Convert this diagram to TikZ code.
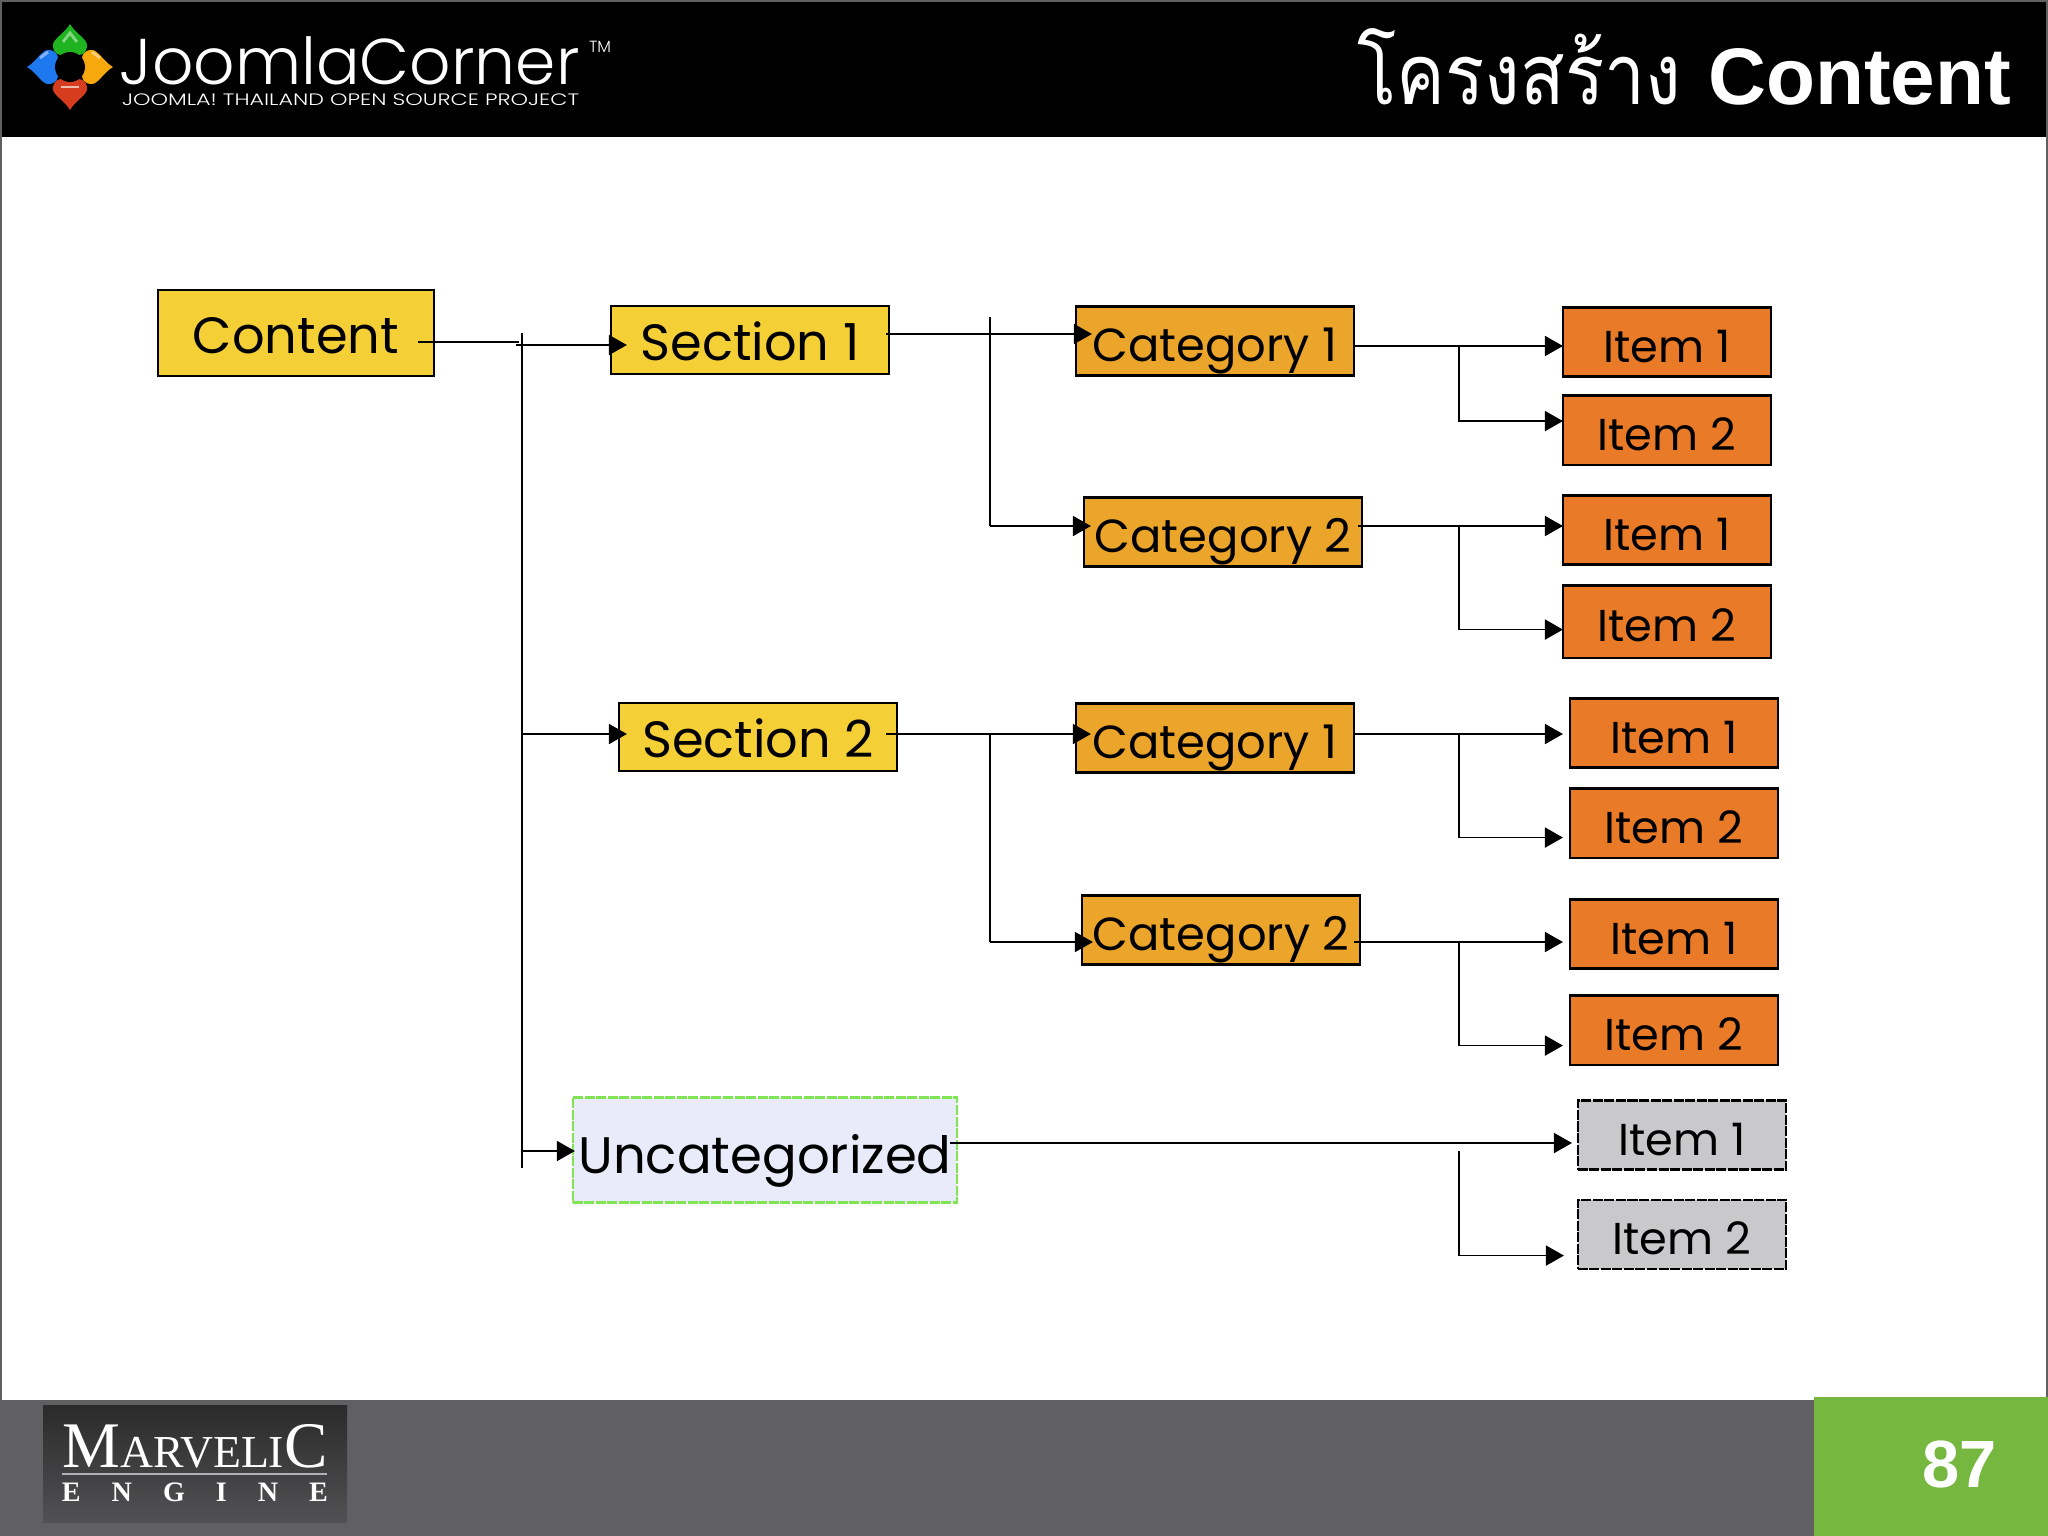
\documentclass[tikz,border=0pt]{standalone}
\usepackage{graphicx}
\usepackage{fontspec}
\setmainfont{Liberation Sans}
\newfontfamily\thaifont[Script=Thai]{Loma}
\newfontfamily\gothicfont{Poppins}
\newfontfamily\gothiclight{Poppins Light}
\newfontfamily\marvelfont{Liberation Serif}
\usetikzlibrary{positioning, arrows.meta, calc}
\definecolor{sectionfill}{HTML}{F4CF35}
\definecolor{categoryfill}{HTML}{EBA52A}
\definecolor{itemfill}{HTML}{E97A28}
\definecolor{greyfill}{HTML}{C9C8CA}
\definecolor{loosefill}{HTML}{E9EAFA}
\definecolor{looseline}{HTML}{7FE552}
\definecolor{footfill}{HTML}{605F61}
\definecolor{pagefill}{HTML}{76B83F}
\definecolor{gemgreen}{HTML}{1FB41F}
\definecolor{gemblue}{HTML}{1E78F0}
\definecolor{gemorange}{HTML}{F7A80C}
\definecolor{gemred}{HTML}{D63C1E}
\newcommand{\gempath}{(0,-43) .. controls (5,-34) and (17,-28) .. (17,-22) .. controls (17,-14) and (12,-12) .. (8,-12) -- (-8,-12) .. controls (-12,-12) and (-17,-14) .. (-17,-22) .. controls (-17,-28) and (-5,-34) .. (0,-43) -- cycle}

\begin{document}
\begin{tikzpicture}[x=0.01cm, y=-0.01cm, node distance={2mm},
    main/.style = {draw, line width=0.6pt, inner sep=0, outer sep=0, text=black, text height=4mm, text depth=0pt, font=\gothicfont\fontsize{12.7}{12.7}\selectfont},
    sectionbox/.style = {main, fill=sectionfill, minimum width=2.78cm, minimum height=0.68cm, font=\gothicfont\fontsize{14.5}{14.5}\selectfont},
    categorybox/.style = {main, fill=categoryfill, minimum width=2.78cm, minimum height=0.69cm, font=\gothicfont\fontsize{13.2}{13.2}\selectfont},
    itembox/.style = {main, fill=itemfill, minimum width=2.08cm, minimum height=0.69cm},
    greybox/.style = {main, fill=greyfill, minimum width=2.08cm, minimum height=0.69cm, dash pattern=on 1.0mm off 0.15mm},
    link/.style = {black, line width=0.5pt},
    linkarrow/.style = {link, -{Triangle[length=1.8mm, width=2mm]}},
    whitetext/.style = {inner sep=0, outer sep=0, text=white}]
    \useasboundingbox (0,0) rectangle (2048,1536);
    \fill[white] (0,0) rectangle (2048,1536);
    \fill[black] (0,0) rectangle (2048,137);
    \draw[footfill, line width=0.6pt] (1,0) -- (1,1536) (2047,0) -- (2047,1536) (0,1) -- (2048,1);
    \fill[footfill] (0,1400) rectangle (2048,1536);
    \fill[pagefill] (1814,1397) rectangle (2048,1536);
    \shade[top color=black!80!footfill!90!white, bottom color=footfill!85!black] (43,1405) rectangle (347,1522);

    \fill[gemblue, shift={(70,67)}, rotate=90] \gempath;
    \fill[gemorange, shift={(70,67)}, rotate=270] \gempath;
    \fill[gemgreen, shift={(70,67)}] \gempath;
    \fill[gemred, shift={(70,67)}, rotate=180] \gempath;
    \fill[black, shift={(70,67)}] (0,0) circle (15);
    \draw[white!45!gemgreen, line width=0.8pt, shift={(70,67)}] (-7,-25) -- (0,-34) -- (7,-25);
    \draw[white!65!gemred, line width=0.8pt, shift={(70,67)}] (-9,20) -- (9,20);
    \draw[white!45!gemblue, line width=0.8pt, shift={(70,67)}] (-30,-9) -- (-22,-15);
    \draw[white!45!gemorange, line width=0.8pt, shift={(70,67)}] (22,-15) -- (30,-9);

    \node[whitetext, anchor=base west, font=\gothiclight\fontsize{18.4}{18.4}\selectfont] (brand) at (120,84) {JoomlaCorner};
    \node[whitetext, anchor=base west, font=\gothiclight\fontsize{4.6}{4.6}\selectfont] (tm) at (589,52) {TM};
    \node[whitetext, anchor=base west, font=\gothiclight\fontsize{4.7}{4.7}\selectfont] (slogan) at (122,105) {\scalebox{1.345}[1]{JOOMLA! THAILAND OPEN SOURCE PROJECT}};
    \node[whitetext, anchor=base east] (title) at (2011,104) {{\thaifont\fontsize{24}{24}\selectfont\scalebox{0.866}[1]{โครงสร้าง}}\hspace{2.7mm}{\fontsize{22.8}{22.8}\selectfont\bfseries Content}};
    \node[whitetext, anchor=base east, font=\fontsize{19}{19}\selectfont\bfseries] (page) at (1997,1487) {87};
    \node[whitetext, anchor=base, font=\marvelfont] (marvelic) at (195,1467) {\fontsize{18.5}{18.5}\selectfont M\fontsize{13}{13}\selectfont ARVELI\fontsize{18.5}{18.5}\selectfont C};
    \node[whitetext, anchor=base, font=\marvelfont\bfseries\fontsize{8}{8}\selectfont] (engine) at (195,1501) {E\hspace{3.1mm}N\hspace{3.1mm}G\hspace{3.1mm}I\hspace{3.1mm}N\hspace{3.1mm}E};
    \draw[black!30, line width=0.5pt] (62,1474) -- (327,1474);

    \node[sectionbox, minimum width=2.76cm, minimum height=0.86cm] (content) at (296,333) {Content};
    \node[sectionbox] (sec1) at (750,340) {Section 1};
    \node[sectionbox] (sec2) at (758,737) {Section 2};
    \node[categorybox] (cat1) at (1215,341) {Category 1};
    \node[categorybox] (cat2) at (1223,532) {Category 2};
    \node[categorybox] (cat3) at (1215,738) {Category 1};
    \node[categorybox] (cat4) at (1221,930) {Category 2};
    \node[itembox] (item1) at (1667,342) {Item 1};
    \node[itembox] (item2) [below=0.19cm of item1] {Item 2};
    \node[itembox] (item3) at (1667,530) {Item 1};
    \node[itembox, minimum height=0.72cm] (item4) [below=0.21cm of item3] {Item 2};
    \node[itembox] (item5) at (1674,733) {Item 1};
    \node[itembox] (item6) [below=0.21cm of item5] {Item 2};
    \node[itembox] (item7) at (1674,934) {Item 1};
    \node[itembox] (item8) [below=0.27cm of item7] {Item 2};
    \node[main, fill=loosefill, draw=looseline, dash pattern=on 1.0mm off 0.15mm, minimum width=3.84cm, minimum height=1.05cm, text height=4.6mm, font=\gothicfont\fontsize{14.6}{14.6}\selectfont] (loose) at (765,1150) {Uncategorized};
    \node[greybox] (item9) at (1682,1135) {Item 1};
    \node[greybox] (item10) [below=0.30cm of item9] {Item 2};

    \coordinate (tree1) at (522,333);
    \coordinate (tree2) at (522,1168);
    \coordinate (tree3) at (990,317);
    \coordinate (tree4) at (990,526);
    \coordinate (tree5) at (990,734);
    \coordinate (tree6) at (990,942);
    \coordinate (tree7) at (1459,346);
    \coordinate (tree8) at (1459,526);
    \coordinate (tree9) at (1459,734);
    \coordinate (tree10) at (1459,942);
    \coordinate (tree11) at (1459,1151);

    \draw[link] ([shift={(-16,9)}]content.east) -- (519,342);
    \draw[link] (tree1) -- (tree2);
    \draw[linkarrow] (516,345) -- ([shift={(16,5)}]sec1.west);
    \draw[linkarrow] (522,734) -- ([shift={(8,-3)}]sec2.west);
    \draw[linkarrow] (522,1151) -- ([shift={(2,1)}]loose.west);

    \draw[linkarrow] ([shift={(-3,-6)}]sec1.east) -- ([shift={(16,-7)}]cat1.west);
    \draw[link] (tree3) -- (tree4);
    \draw[linkarrow] (tree4) -- ([shift={(7,-6)}]cat2.west);
    \draw[linkarrow] ([shift={(-11,-3)}]sec2.east) -- ([shift={(15,-4)}]cat3.west);
    \draw[link] (tree5) -- (tree6);
    \draw[linkarrow] (tree6) -- ([shift={(11,12)}]cat4.west);

    \draw[linkarrow] (cat1.east |- tree7) -- (item1.west |- tree7);
    \draw[linkarrow] (tree7) |- ([shift={(0,-9)}]item2.west);
    \draw[linkarrow] ([shift={(-4,-6)}]cat2.east) -- (item3.west |- tree8);
    \draw[linkarrow] (tree8) |- ([shift={(0,8)}]item4.west);
    \draw[linkarrow] (cat3.east |- tree9) -- ([shift={(-7,1)}]item5.west);
    \draw[linkarrow] (tree9) |- ([shift={(-7,14.5)}]item6.west);
    \draw[linkarrow] ([shift={(-6,12)}]cat4.east) -- ([shift={(-7,8)}]item7.west);
    \draw[linkarrow] (tree10) |- ([shift={(-7,15.5)}]item8.west);

    \draw[linkarrow] ([shift={(-7,-7)}]loose.east) -- ([shift={(-6,8)}]item9.west);
    \draw[linkarrow] (tree11) |- ([shift={(-14,21.5)}]item10.west);
\end{tikzpicture}
\end{document}
